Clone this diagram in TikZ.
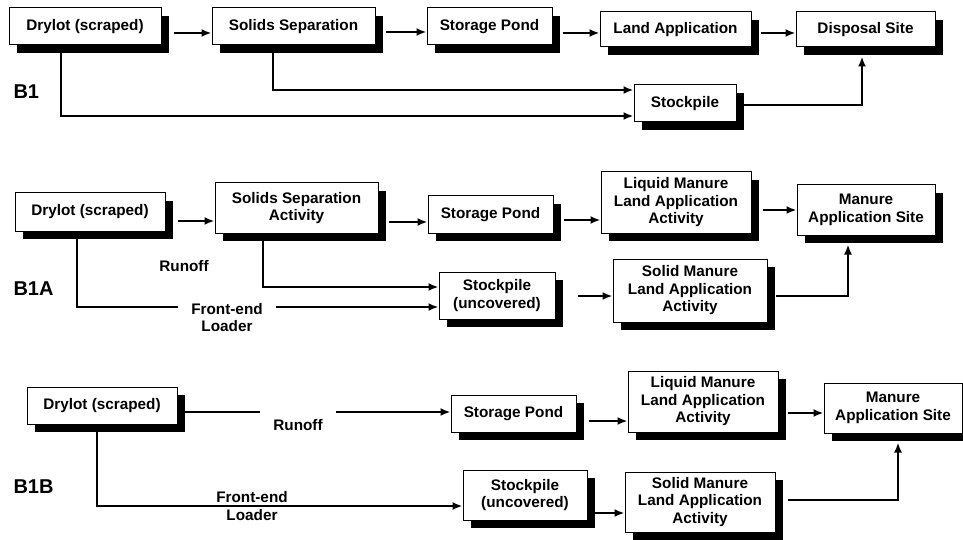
\documentclass[tikz,border=0pt]{standalone}
\usepackage{fontspec}
\setmainfont{Liberation Sans}
\usetikzlibrary{arrows.meta,shadows}
\newcommand{\boxfont}{\fontsize{15.3}{17.5}\selectfont\bfseries}
\newcommand{\tagfont}{\fontsize{20}{22}\selectfont\bfseries}

\begin{document}
\begin{tikzpicture}[x=1pt,y=-1pt,
  stage/.style={draw,fill=white,line width=1pt,align=center,font=\boxfont,inner sep=2pt,
    general shadow={fill=black,shadow xshift=8pt,shadow yshift=-8pt}},
  tag/.style={font=\tagfont,anchor=west},
  lbl/.style={font=\boxfont,align=center},
  arr/.style={line width=2.5pt,-{Latex[length=10pt,width=8pt]}}]
\useasboundingbox (0,0) rectangle (963,540);

% B1
\node[stage,minimum width=152pt,minimum height=37pt] (dry1) at (85,26.5) {Drylot (scraped)};
\node[stage,minimum width=163pt,minimum height=37pt] (sep1) at (293.5,26.5) {Solids Separation};
\node[stage,minimum width=125pt,minimum height=37pt] (pond1) at (489.5,26.5) {Storage Pond};
\node[stage,minimum width=151pt,minimum height=35pt] (land1) at (675.5,29.5) {Land Application};
\node[stage,minimum width=139pt,minimum height=35pt] (site1) at (865.5,29.5) {Disposal Site};
\node[stage,minimum width=102pt,minimum height=37pt] (pile1) at (685,103.5) {Stockpile};
\node[tag] (b1) at (10,92) {B1};

\draw[arr] ([xshift=12pt,yshift=-6.5pt]dry1.east) -- ([yshift=-6.5pt]sep1.west);
\draw[arr] ([xshift=10pt,yshift=-5.5pt]sep1.east) -- ([yshift=-5.5pt]pond1.west);
\draw[arr] ([xshift=10pt,yshift=-6.5pt]pond1.east) -- ([yshift=-3.5pt]land1.west);
\draw[arr] ([xshift=9pt,yshift=-3.5pt]land1.east) -- ([yshift=-3.5pt]site1.west);
\draw[arr] ([xshift=-20.5pt]sep1.south) |- ([yshift=13.5pt]pile1.west);
\draw[arr] ([xshift=-24pt]dry1.south) |- ([yshift=-12.5pt]pile1.west);
\draw[arr] ([yshift=-1.5pt]pile1.east) -| ([xshift=-3.5pt,yshift=-9pt]site1.south);

% B1A
\node[stage,minimum width=150pt,minimum height=38pt] (dry2) at (90,212) {Drylot (scraped)};
\node[stage,minimum width=163pt,minimum height=50pt] (sep2) at (296.5,208) {Solids Separation\\Activity};
\node[stage,minimum width=125pt,minimum height=37pt] (pond2) at (490.5,214.5) {Storage Pond};
\node[stage,minimum width=150pt,minimum height=61pt] (liq2) at (676,202.5) {Liquid Manure\\Land Application\\Activity};
\node[stage,minimum width=138pt,minimum height=50pt] (site2) at (866,210) {Manure\\Application Site};
\node[stage,minimum width=116pt,minimum height=47pt] (pile2) at (497,295.5) {Stockpile\\(uncovered)};
\node[stage,minimum width=154pt,minimum height=63pt] (sol2) at (690,290.5) {Solid Manure\\Land Application\\Activity};
\node[tag] (b1a) at (10,289) {B1A};

\draw[arr] ([xshift=12pt,yshift=-9pt]dry2.east) -- ([yshift=-13pt]sep2.west);
\draw[arr] ([xshift=10pt,yshift=-14pt]sep2.east) -- ([yshift=-7.5pt]pond2.west);
\draw[arr] ([xshift=10pt,yshift=-5.5pt]pond2.east) -- ([yshift=-17.5pt]liq2.west);
\draw[arr] ([xshift=11pt,yshift=-7.5pt]liq2.east) -- (site2.west);
\draw[arr] ([xshift=-33.5pt]sep2.south) |- ([yshift=8.5pt]pile2.west);
\draw[arr] ([xshift=-13pt]dry2.south) |- ([yshift=-11.5pt]pile2.west);
\draw[arr] ([xshift=22pt,yshift=-0.5pt]pile2.east) -- ([yshift=-5.5pt]sol2.west);
\draw[arr] ([xshift=8pt,yshift=-5.5pt]sol2.east) -| ([xshift=-18pt,yshift=-9pt]site2.south);
\node[lbl] (run2) at (184,266) {Runoff};
\node[lbl,fill=white,inner xsep=13pt,inner ysep=3pt] (fel2) at (227,317.5) {Front-end\\Loader};

% B1B
\node[stage,minimum width=150pt,minimum height=37pt] (dry3) at (102,405.5) {Drylot (scraped)};
\node[stage,minimum width=125pt,minimum height=37pt] (pond3) at (513.5,413.5) {Storage Pond};
\node[stage,minimum width=150pt,minimum height=61pt] (liq3) at (703,401.5) {Liquid Manure\\Land Application\\Activity};
\node[stage,minimum width=138pt,minimum height=50pt] (site3) at (893,408) {Manure\\Application Site};
\node[stage,minimum width=124pt,minimum height=50pt] (pile3) at (525,495) {Stockpile\\(uncovered)};
\node[stage,minimum width=150pt,minimum height=60pt] (sol3) at (700,502) {Solid Manure\\Land Application\\Activity};
\node[tag] (b1b) at (10,487) {B1B};

\draw[arr] ([yshift=-6.5pt]dry3.east) -- ([yshift=1.5pt]pond3.west);
\draw[arr] ([xshift=12pt,yshift=-7.5pt]pond3.east) -- ([yshift=-19.5pt]liq3.west);
\draw[arr] ([xshift=9pt,yshift=-11.5pt]liq3.east) -- ([yshift=-5pt]site3.west);
\draw[arr] ([xshift=-5pt]dry3.south) |- ([yshift=-11pt]pile3.west);
\draw[arr] ([xshift=3pt,yshift=-18pt]pile3.east) -- ([yshift=-11pt]sol3.west);
\draw[arr] ([xshift=12pt,yshift=2pt]sol3.east) -| ([xshift=5pt,yshift=-9pt]site3.south);
\node[lbl,fill=white,inner xsep=13pt,inner ysep=8pt] (run3) at (298,425) {Runoff};
\node[lbl] (fel3) at (252,506) {Front-end\\Loader};
\end{tikzpicture}
\end{document}
